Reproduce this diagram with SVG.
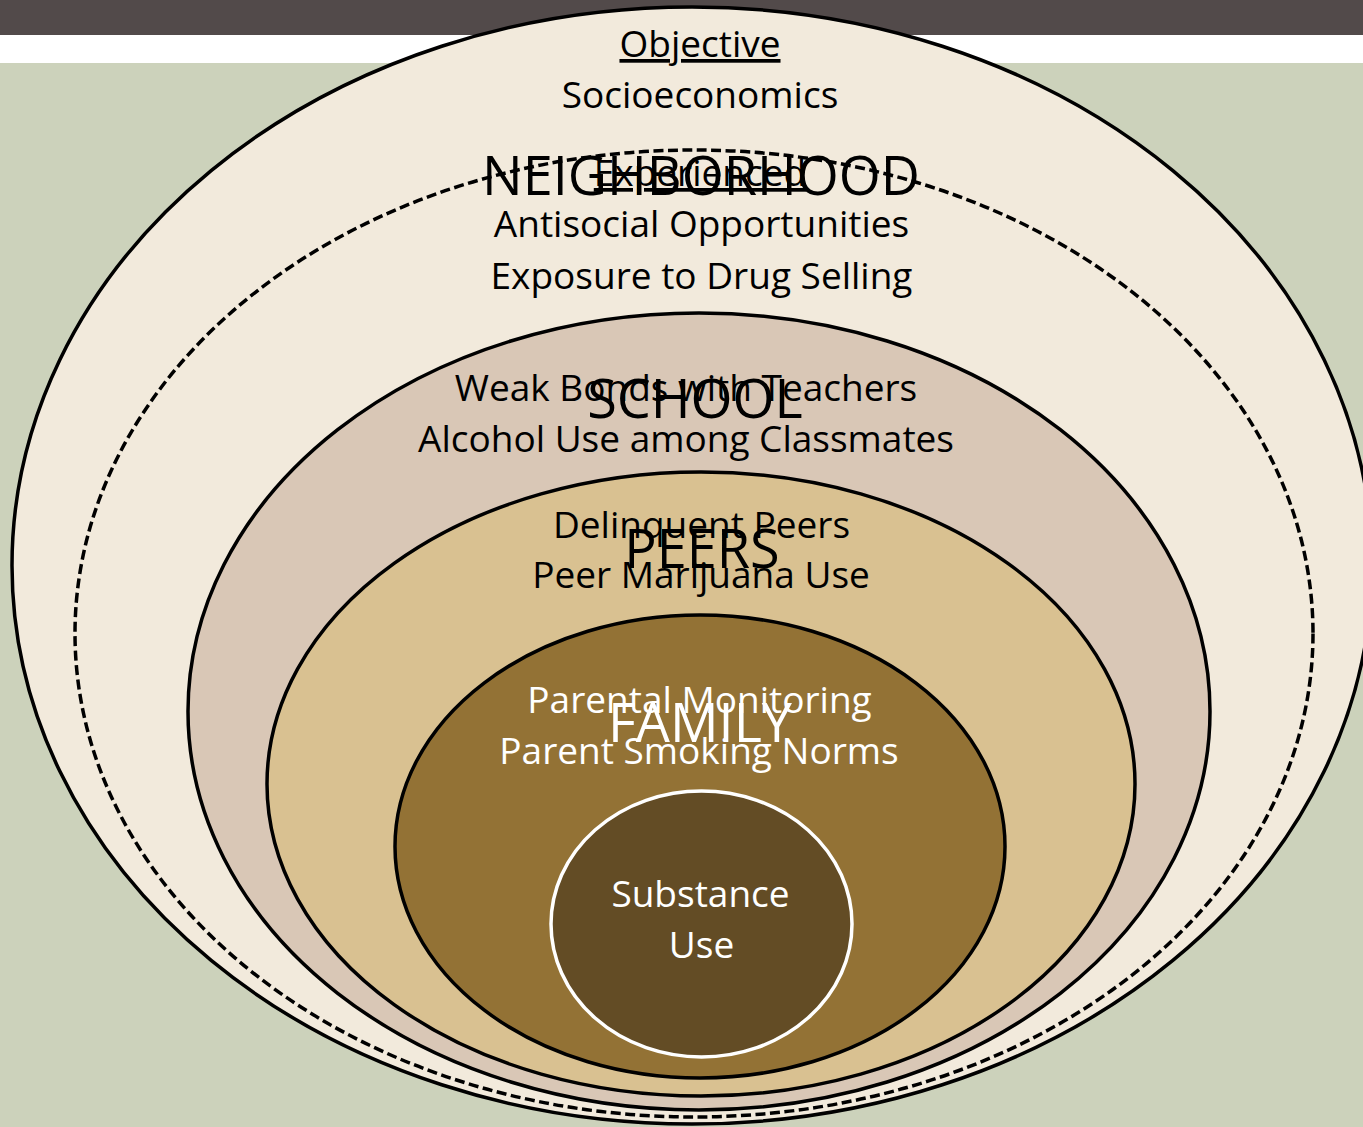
<svg xmlns="http://www.w3.org/2000/svg" width="1363" height="1127" viewBox="0 0 1363 1127">
  <style>
    .ring { stroke: #000; stroke-width: 3.5; }
    .lbl { font-family: "Open Sans", "Noto Sans", sans-serif; font-size: 37px; text-anchor: middle; fill: #000; }
    .big { font-family: "Open Sans", "Noto Sans", sans-serif; font-size: 54px; text-anchor: middle; fill: #000; }
    .light { fill: #fff; }
    .ul { text-decoration: underline; }
  </style>

  <!-- page background: title band, white strip, sage field -->
  <rect x="0" y="0" width="1363" height="1127" fill="#ccd2bb"/>
  <rect x="0" y="0" width="1363" height="35" fill="#524a4a"/>
  <rect x="0" y="35" width="1363" height="28" fill="#ffffff"/>

  <!-- outermost ring: objective neighborhood -->
  <g id="objective">
    <ellipse class="ring" cx="692" cy="565.5" rx="680" ry="558.5" fill="#f2eadc"/>
    <text class="lbl ul" x="700" y="57">Objective</text>
    <text class="lbl" x="700" y="108">Socioeconomics</text>
  </g>

  <!-- dashed ring: experienced neighborhood -->
  <g id="neighborhood">
    <ellipse cx="694" cy="633.5" rx="619" ry="483.5" fill="none" stroke="#000" stroke-width="3.5" stroke-dasharray="10 4.5"/>
    <text class="big" x="701" y="195" font-size="55">NEIGHBORHOOD</text>
    <text class="lbl ul" x="700" y="186">Experienced</text>
    <text class="lbl" x="701.5" y="237">Antisocial Opportunities</text>
    <text class="lbl" x="701.5" y="289">Exposure to Drug Selling</text>
  </g>

  <!-- school ring -->
  <g id="school">
    <ellipse class="ring" cx="699" cy="711.5" rx="511" ry="398.5" fill="#d9c7b6"/>
    <text class="lbl" x="686" y="401">Weak Bonds with Teachers</text>
    <text class="big" x="695" y="418">SCHOOL</text>
    <text class="lbl" x="686" y="452">Alcohol Use among Classmates</text>
  </g>

  <!-- peers ring -->
  <g id="peers">
    <ellipse class="ring" cx="701" cy="784" rx="434" ry="312" fill="#d9c191"/>
    <text class="lbl" x="701.5" y="538">Delinquent Peers</text>
    <text class="big" x="702" y="568" font-size="56">PEERS</text>
    <text class="lbl" x="701" y="588">Peer Marijuana Use</text>
  </g>

  <!-- family ring -->
  <g id="family">
    <ellipse class="ring" cx="700" cy="846.5" rx="305" ry="231.5" fill="#937235"/>
    <text class="lbl light" x="699.5" y="713">Parental Monitoring</text>
    <text class="big light" x="700" y="742">FAMILY</text>
    <text class="lbl light" x="699" y="764">Parent Smoking Norms</text>
  </g>

  <!-- core: substance use -->
  <g id="substance-use">
    <ellipse cx="701.5" cy="924" rx="150.5" ry="133" fill="#634c25" stroke="#fff" stroke-width="3.5"/>
    <text class="lbl light" x="700.5" y="907">Substance</text>
    <text class="lbl light" x="701.5" y="958">Use</text>
  </g>
</svg>
